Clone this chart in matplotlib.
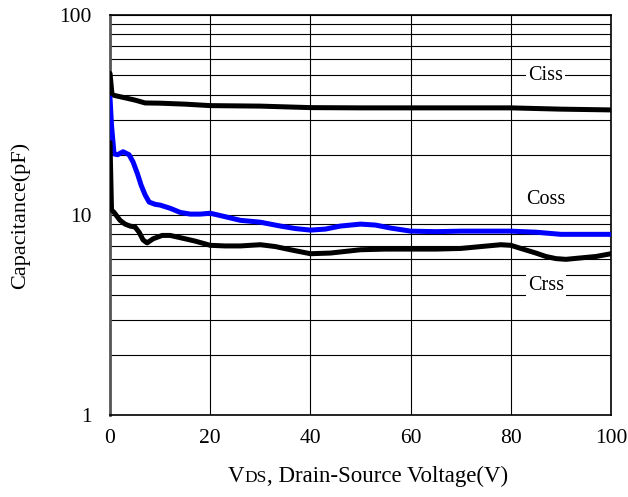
import numpy as np
import matplotlib.pyplot as plt
from matplotlib.ticker import FixedLocator, NullFormatter
from matplotlib.transforms import offset_copy

plt.rcParams["font.family"] = ["Liberation Serif", "DejaVu Serif"]

# drain-source voltage (V) and capacitances (pF)
vds_ciss = [0, 0.4, 1, 3, 5, 7, 10, 15, 20, 30, 40, 50, 60, 70, 80, 90, 100]
ciss = [51, 40, 39.5, 38.5, 37.5, 36.3, 36.2, 35.8, 35.2, 35.0, 34.4, 34.3, 34.3, 34.3, 34.3, 33.8, 33.5]

vds_coss = [0, 0.3, 0.8, 1.5, 2.6, 3.8, 4.6, 5.5, 6.2, 7.0, 7.8, 9, 10, 12, 14, 16, 18, 20, 23, 26,
            30, 34, 37, 40, 43, 46, 50, 53, 56, 60, 65, 70, 75, 80, 85, 90, 95, 100]
coss = [38.5, 28, 20.2, 20.0, 20.7, 20.0, 18.4, 16.0, 14.1, 12.6, 11.6, 11.3, 11.2, 10.8, 10.3, 10.1, 10.1,
        10.2, 9.8, 9.4, 9.2, 8.8, 8.55, 8.4, 8.5, 8.8, 9.0, 8.9, 8.6, 8.3, 8.25, 8.3, 8.3, 8.3, 8.2, 8.0, 8.0, 8.0]

vds_crss = [0, 0.3, 0.8, 2, 3, 4, 5, 5.8, 6.6, 7.4, 8.6, 10.4, 12, 14, 17, 20, 23, 26, 30, 33, 36, 40, 44,
            50, 55, 60, 65, 70, 74, 78, 80, 82, 85, 87, 89, 91, 94, 97, 100]
crss = [23, 10.6, 10.3, 9.4, 9.0, 8.8, 8.7, 8.2, 7.5, 7.25, 7.6, 7.9, 7.9, 7.7, 7.4, 7.05, 7.0, 7.0, 7.1,
        6.95, 6.7, 6.4, 6.45, 6.7, 6.75, 6.75, 6.75, 6.8, 6.95, 7.1, 7.05, 6.8, 6.45, 6.2, 6.05, 6.0, 6.1, 6.2, 6.4]

curve_labels = ["Ciss", "Coss", "Crss"]
label_pos = [(87, 50), (87, 12), (87, 4.45)]

fig = plt.figure(figsize=(6.28, 4.97), dpi=100)
ax = fig.add_axes([0.1752, 0.165, 0.7978, 0.805])
ax.set_yscale("log")
ax.set_xlim(0, 100)
ax.set_ylim(1, 100)

# grid on every log minor step and every 20 V
ax.yaxis.set_major_locator(FixedLocator([1, 10, 100]))
ax.yaxis.set_minor_locator(FixedLocator([m * d for d in (1, 10) for m in range(2, 10)]))
ax.yaxis.set_minor_formatter(NullFormatter())
ax.set_yticklabels(["1", "10", "100"])
ax.set_xticks([0, 20, 40, 60, 80, 100])
ax.grid(True, which="both", axis="y", color="black", linewidth=0.8)
ax.grid(True, which="major", axis="x", color="black", linewidth=0.8)
ax.tick_params(axis="y", which="major", length=0, labelsize=15.5, pad=13)
ax.tick_params(axis="y", which="minor", length=0)
ax.tick_params(axis="x", length=0, labelsize=15.5, pad=10)
for s in ax.spines.values():
    s.set_linewidth(1.2)
ax.spines["left"].set_linewidth(2)
ax.spines["left"].set_color("#555555")

ax.plot(vds_ciss, ciss, color="black", linewidth=3.6, solid_capstyle="round", zorder=3)
ax.plot(vds_coss, coss, color="#0000ff", linewidth=3.6, solid_capstyle="round", zorder=3)
ax.plot(vds_crss, crss, color="black", linewidth=3.6, solid_capstyle="round", zorder=3)

for name, (x, y) in zip(curve_labels, label_pos):
    ax.text(x, y, name, fontsize=14.5, ha="center", va="center", zorder=4,
            bbox=dict(facecolor="white", edgecolor="none", pad=1.5))

ax.set_ylabel("Capacitance(pF)", fontsize=16, labelpad=21)

# x label with small-caps subscript DS
fig.canvas.draw()
renderer = fig.canvas.get_renderer()
y0 = 0.03
x0 = 0.363
t1 = fig.text(x0, y0, "V", fontsize=16.5)
w1 = t1.get_window_extent(renderer).width
t2 = fig.text(x0, y0, "DS", fontsize=12.5,
              transform=offset_copy(fig.transFigure, fig=fig, x=w1, y=0, units="dots"))
w2 = t2.get_window_extent(renderer).width
fig.text(x0, y0, ", Drain-Source Voltage(V)", fontsize=16.5,
         transform=offset_copy(fig.transFigure, fig=fig, x=w1 + w2, y=0, units="dots"))

fig.savefig("out.png", dpi=100)
